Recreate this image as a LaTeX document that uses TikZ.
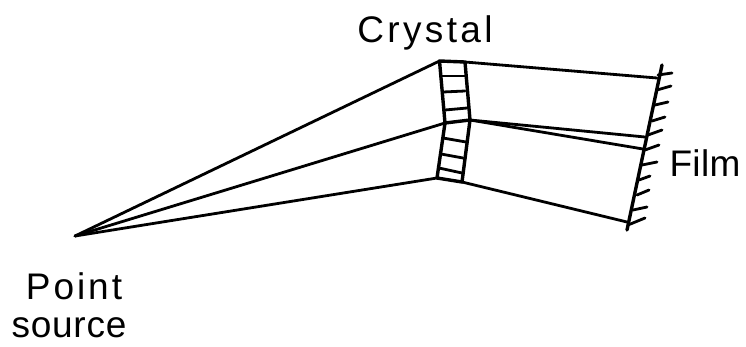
\documentclass[tikz,border=0pt]{standalone}
\usepackage{fontspec}
\setmainfont{Liberation Sans}
\usepackage{tikz}
\tikzset{
  ray/.style={line width=2.8pt, line cap=round, line join=round},
  wall/.style={line width=3.4pt, line cap=round, line join=round},
  hatch/.style={line width=2.8pt, line cap=round},
  label/.style={inner sep=0pt, anchor=base, font=\fontsize{37}{44}\selectfont}
}

\begin{document}
\begin{tikzpicture}[x=1pt, y=-1pt]
    \useasboundingbox (0,0) rectangle (746,346);

    % Source and crystal corners
    \coordinate (src) at (75,236);
    \coordinate (lt) at (439.5,61);
    \coordinate (lm) at (445,123);
    \coordinate (lb) at (437,178);
    \coordinate (rt) at (465,62);
    \coordinate (rm) at (470,120);
    \coordinate (rb) at (462,182);

    % Film ends and where the rays land
    \coordinate (ft) at (662,65);
    \coordinate (fb) at (627,230);
    \coordinate (f1) at (657,78);
    \coordinate (f2) at (645,137);
    \coordinate (f3) at (643,149);
    \coordinate (f4) at (627,222);

    % Incoming rays
    \draw[ray] (src) -- (lt);
    \draw[ray] (src) -- (lm);
    \draw[ray] (src) -- (lb);

    % Crystal
    \draw[wall] (lt) -- (rt) -- (rm) -- (rb) -- (lb) -- (lm) -- cycle;
    \draw[wall] (lm) -- (rm);
    \foreach \xa/\ya/\xb/\yb in {441/76/465/76, 443/92/465/91, 445/110/467/108,
        443/138/466/142, 441/154/463/158, 439/168/462/173}
      \draw[hatch] (\xa,\ya) -- (\xb,\yb);

    % Outgoing rays
    \draw[ray] (rt) -- (f1);
    \draw[ray] (rm) -- (f2);
    \draw[ray] (rm) -- (f3);
    \draw[ray] (rb) -- (f4);

    % Film
    \draw[wall] (ft) -- (fb);
    \foreach \xa/\ya/\xb/\yb in {658/75/672/73, 657/90/671/86, 655/105/668/102,
        652/121/665/117, 648/135/662/130, 645/150/659/145, 642/165/657/162,
        639/180/650/176, 637/195/649/190, 633/210/647/207, 628/225/645/218}
      \draw[hatch] (\xa,\ya) -- (\xb,\yb);

    % Labels
    \node[label] (crystal) at (425,42) {\addfontfeature{LetterSpace=9}Crystal};
    \node[label] (film) at (705,176) {\addfontfeature{LetterSpace=1}Film};
    \node[label] (point) at (74,299) {\addfontfeature{LetterSpace=8}Point};
    \node[label] (source) at (69,337) {\addfontfeature{LetterSpace=2}source};
\end{tikzpicture}
\end{document}
